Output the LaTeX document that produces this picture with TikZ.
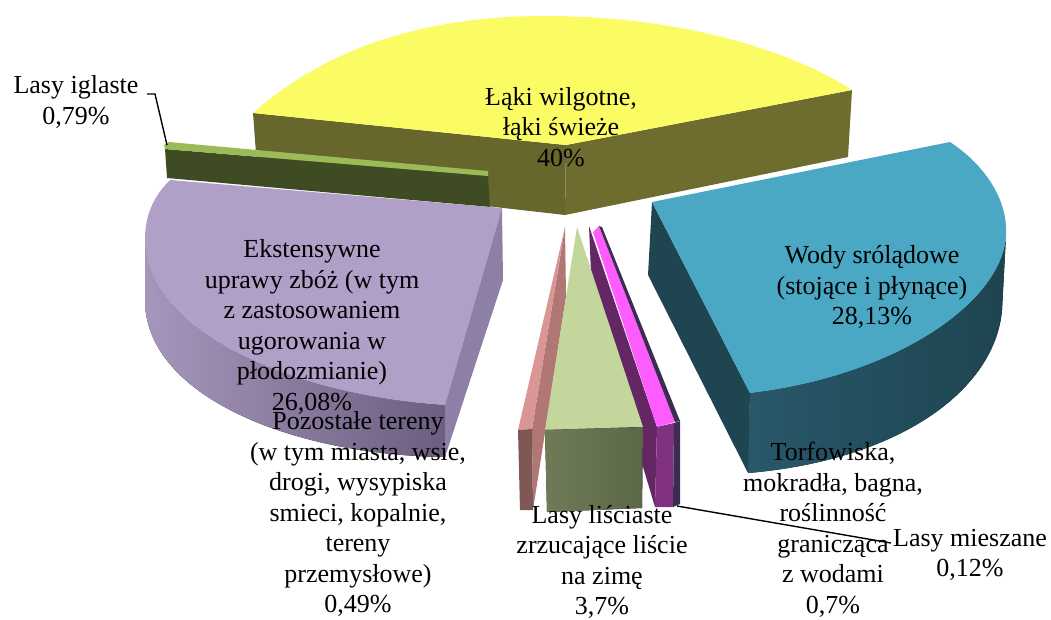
\documentclass[tikz,border=0pt]{standalone}
\usepackage{fontspec}
\setmainfont{Liberation Serif}
\newfontfamily\lbfont{Liberation Serif}
\definecolor{yel}{HTML}{FBFB63}
\definecolor{olvL}{HTML}{67662D}
\definecolor{olvR}{HTML}{6E6C2F}
\definecolor{igL}{HTML}{9BBB59}
\definecolor{igD}{HTML}{3F4B23}
\definecolor{purT}{HTML}{B09FC7}
\definecolor{purS1}{HTML}{A696BC}
\definecolor{purS2}{HTML}{6B5E7E}
\definecolor{purR}{HTML}{8E7FA6}
\definecolor{bluT}{HTML}{4AA8C4}
\definecolor{bluS1}{HTML}{28586A}
\definecolor{bluS2}{HTML}{1E4450}
\definecolor{bluL}{HTML}{1F4551}
\definecolor{pinkT}{HTML}{D99694}
\definecolor{pinkR}{HTML}{B07775}
\definecolor{pinkF}{HTML}{7F5755}
\definecolor{magT}{HTML}{FF5CFF}
\definecolor{magD}{HTML}{652763}
\definecolor{magF}{HTML}{803180}
\definecolor{mie}{HTML}{3C2C52}
\definecolor{grT}{HTML}{C3D69B}
\definecolor{grF1}{HTML}{6F7B57}
\definecolor{grF2}{HTML}{5B6848}
\begin{document}
\begin{tikzpicture}[x=1pt,y=-1pt,
  lbl/.style={align=center,inner sep=0pt,font=\lbfont\fontsize{26}{30.5}\selectfont},
  leader/.style={draw=black,line width=1.4pt}]
\useasboundingbox (0,0) rectangle (1051,619);
% --- Laki (yellow) ---
\fill[olvL] (253,113) -- (566,145) -- (565,215) -- (258,180) -- cycle;
\fill[olvR] (566,145) -- (852,90) -- (848,157) -- (565,215) -- cycle;
\fill[yel] (253,113) -- (566,145) -- (852,90) .. controls (790,50) and (680,16) .. (545,16) .. controls (430,16) and (330,45) .. (253,113) -- cycle;
% --- Lasy iglaste ---
\fill[igD] (165,149) -- (488,176) -- (490,207) -- (167,178) -- cycle;
\fill[igL] (164,145) -- (169,142) -- (488,171) -- (488,176) -- (165,149) -- cycle;
% --- Ekstensywne (purple) ---
\fill[left color=purS1,right color=purS2] (145,240) .. controls (145,330) and (290,395) .. (445,405) -- (445,457) .. controls (290,455) and (145,395) .. (145,300) -- cycle;
\fill[purT] (170,180) -- (502,208) -- (445,405) .. controls (290,395) and (145,330) .. (145,240) .. controls (145,220) and (150,200) .. (170,180) -- cycle;
\fill[purR] (502,208) -- (503,280) -- (445,457) -- (445,405) -- cycle;
% --- Wody (blue) ---
\fill[left color=bluS1,right color=bluS2] (750,393) .. controls (900,375) and (1003,300) .. (1006,235) -- (1002,310) .. controls (995,390) and (900,460) .. (748,473) -- cycle;
\fill[bluL] (652,202) -- (750,393) -- (748,473) -- (648,275) -- cycle;
\fill[bluT] (652,202) -- (950,142) .. controls (985,165) and (1008,200) .. (1006,235) .. controls (1003,300) and (900,375) .. (750,393) -- cycle;
% --- Pozostale (pink) ---
\fill[pinkR] (565,227) -- (532,429) -- (533,510) -- (566,297) -- cycle;
\fill[pinkT] (565,227) -- (518,430) -- (532,429) -- cycle;
\fill[pinkF] (518,430) -- (532,429) -- (533,510) -- (520,510) -- cycle;
% --- Torfowiska (magenta) ---
\fill[magD] (589,226) -- (657,427) -- (655,507) -- (592,296) -- cycle;
\fill[magT] (593,232) -- (599,226) -- (675,422) -- (657,427) -- cycle;
\fill[magF] (657,427) -- (674,423) -- (673,507) -- (655,507) -- cycle;
% --- Lasy mieszane ---
\fill[mie] (599,226) -- (602,227) -- (680,421) -- (675,422) -- cycle;
\fill[mie] (674,423) -- (680,421) -- (680,504) -- (673,507) -- cycle;
% --- Lasy lisciaste (green) ---
\fill[grT] (577,227) -- (545,430) -- (643,427) -- cycle;
\fill[left color=grF1,right color=grF2] (545,430) -- (643,427) -- (642,508) -- (547,512) -- cycle;
% --- labels ---
\node[lbl] (laki) at (561,127) {Łąki wilgotne,\\łąki świeże\\40\%};
\node[lbl] (wody) at (872,287) {Wody srólądowe\\(stojące i płynące)\\28,13\%};
\node[lbl] (ekst) at (312,327) {Ekstensywne\\uprawy zbóż (w tym\\z zastosowaniem\\ugorowania w\\płodozmianie)\\26,08\%};
\node[lbl] (pozo) at (358,514) {Pozostałe tereny\\(w tym miasta, wsie,\\drogi, wysypiska\\smieci, kopalnie,\\tereny\\przemysłowe)\\0,49\%};
\node[lbl] (lisc) at (602,562) {Lasy liściaste\\zrzucające liście\\na zimę\\3,7\%};
\node[lbl] (torf) at (833,530) {Torfowiska,\\mokradła, bagna,\\roślinność\\granicząca\\z wodami\\0,7\%};
\node[lbl] (mies) at (970,555) {Lasy mieszane\\0,12\%};
\node[lbl] (igla) at (76,102) {Lasy iglaste\\0,79\%};
% --- leaders ---
\coordinate (iglaA) at (147,94);
\coordinate (iglaB) at (155,94);
\coordinate (iglaC) at (167,145);
\draw[leader] (iglaA) -- (iglaB) -- (iglaC);
\coordinate (miesA) at (677,506);
\coordinate (miesB) at (891,543);
\draw[leader] (miesA) -- (miesB);
\end{tikzpicture}
\end{document}
